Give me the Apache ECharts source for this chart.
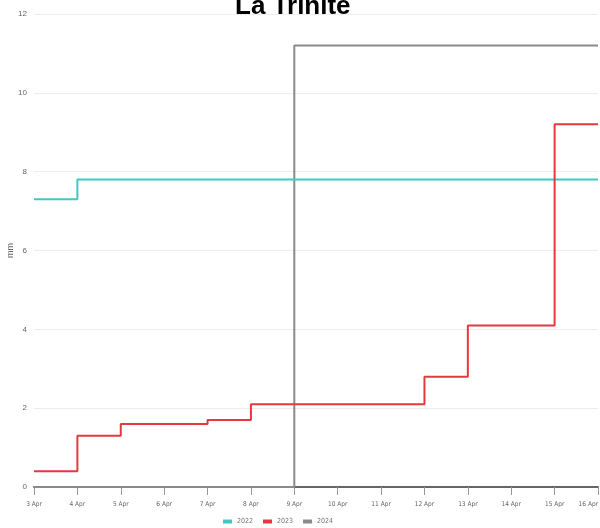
<!DOCTYPE html>
<html><head><meta charset="utf-8">
<script src="https://cdn.jsdelivr.net/npm/echarts@6/dist/echarts.min.js"></script>
<style>html,body{margin:0;padding:0;background:#fff}#c{width:600px;height:528px}</style>
</head><body><div id="c"></div>
<script>
const categories = ['3 Apr','4 Apr','5 Apr','6 Apr','7 Apr','8 Apr','9 Apr','10 Apr','11 Apr','12 Apr','13 Apr','14 Apr','15 Apr','16 Apr'];
const s2022 = [7.3,7.8,7.8,7.8,7.8,7.8,7.8,7.8,7.8,7.8,7.8,7.8,7.8,7.8];
const s2023 = [0.4,1.3,1.6,1.6,1.7,2.1,2.1,2.1,2.1,2.8,4.1,4.1,9.2,9.2];
const s2024 = [0,0,0,0,0,0,11.2,11.2,11.2,11.2,11.2,11.2,11.2,11.2];
const yTicks = [0,2,4,6,8,10,12];

const FONT = '"DejaVu Sans Condensed", "Liberation Sans", sans-serif';
const chart = echarts.init(document.getElementById('c'));
const mk = (name, data, color, z) => ({
  name, type:'line', step:'end', data, showSymbol:false,
  lineStyle:{color, width:2}, itemStyle:{color}, z
});
chart.setOption({
  animation:false,
  textStyle:{fontFamily:'"Liberation Sans", sans-serif'},
  title:{text:'La Trinité', left:230, top:-11,
    textStyle:{fontFamily:'"Liberation Sans", sans-serif', fontWeight:'bold', fontSize:26, color:'#000'}},
  legend:{left:218, bottom:-2, itemWidth:9, itemHeight:4, itemGap:10, icon:'rect',
    textStyle:{fontSize:7, color:'#777', fontFamily:FONT}},
  grid:{left:34, right:2, top:14, bottom:41, containLabel:false, outerBoundsMode:'none'},
  xAxis:{type:'category', data:categories, boundaryGap:false,
    axisLine:{lineStyle:{color:'#666', width:2}},
    axisTick:{show:true, alignWithLabel:true, length:8, lineStyle:{color:'#999'}},
    axisLabel:{fontSize:6.5, color:'#666', fontFamily:FONT, margin:14, interval:0, alignMaxLabel:'right'}},
  yAxis:{type:'value', min:yTicks[0], max:yTicks[yTicks.length-1], interval:2,
    name:'mm', nameLocation:'middle', nameGap:19, nameRotate:90, nameMoveOverlap:false,
    nameTextStyle:{fontSize:9, color:'#666'},
    axisLine:{show:false}, axisTick:{show:false},
    axisLabel:{fontSize:8, color:'#666', margin:7},
    splitLine:{lineStyle:{color:'#eee', width:1}}},
  series:[
    mk('2022', s2022, '#3ec9c2', 3),
    mk('2023', s2023, '#e5393f', 4),
    mk('2024', s2024, '#8a8a8a', 2)
  ]
});
</script></body></html>
